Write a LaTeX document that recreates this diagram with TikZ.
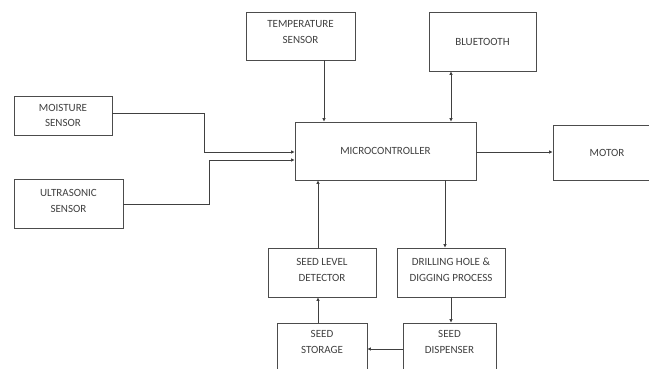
\documentclass[tikz,border=0pt]{standalone}
\usepackage{fontspec}
\setmainfont{Carlito}
\usetikzlibrary{arrows.meta}
\begin{document}
\begin{tikzpicture}[x=1pt,y=-1pt,
  box/.style={draw=black!70, line width=0.8pt, inner sep=0pt, align=center,
    font=\fontsize{11}{15.5}\selectfont, text=black!75},
  lbl/.style={inner sep=0pt, align=center, font=\fontsize{11}{15.5}\selectfont, text=black!75},
  arr/.style={draw=black!75, line width=0.8pt, -{Latex[length=3.5pt,width=3.5pt]}},
  barr/.style={draw=black!75, line width=0.8pt, {Latex[length=3.5pt,width=3.5pt]}-{Latex[length=3.5pt,width=3.5pt]}}]
\useasboundingbox (0,0) rectangle (649,368);
\clip (0,0) rectangle (649,368);
\fill[white] (0,0) rectangle (649,368);
\node[box, minimum width=109pt, minimum height=48pt] (temp) at (300.5,36) {};
\node[lbl] (tempt) at (300.5,32) {TEMPERATURE\\SENSOR};
\node[box, minimum width=107pt, minimum height=59pt] (bt) at (482.5,41.5) {BLUETOOTH};
\node[box, minimum width=98pt, minimum height=39pt] (moist) at (63,115.5) {MOISTURE\\SENSOR};
\node[box, minimum width=109pt, minimum height=49pt] (ultra) at (68.5,203.5) {};
\node[lbl] (ultrat) at (68.5,201) {ULTRASONIC\\SENSOR};
\node[box, minimum width=181pt, minimum height=58pt] (micro) at (385.5,151) {MICROCONTROLLER};
\node[box, minimum width=108pt, minimum height=55pt] (motor) at (607,152.5) {MOTOR};
\node[box, minimum width=108pt, minimum height=49pt] (sld) at (322,272.5) {};
\node[lbl] (sldt) at (322,270) {SEED LEVEL\\DETECTOR};
\node[box, minimum width=108pt, minimum height=49pt] (drill) at (451,272.5) {};
\node[lbl] (drillt) at (451,270) {DRILLING HOLE \&\\DIGGING PROCESS};
\node[box, minimum width=90pt, minimum height=49pt] (stor) at (322,347.5) {};
\node[lbl] (stort) at (322,342) {SEED\\STORAGE};
\node[box, minimum width=93pt, minimum height=49pt] (disp) at (449.5,347.5) {};
\node[lbl] (dispt) at (449.5,342) {SEED\\DISPENSER};
% connectors
\draw[arr] (324,0 |- temp.south) -- (324,0 |- micro.north);
\draw[barr] (451,0 |- bt.south) -- (451,0 |- micro.north);
\draw[arr] (moist.east |- 0,113) -- (204,113) -- (204,152) -- (micro.west |- 0,152);
\draw[arr] (ultra.east |- 0,204) -- (209,204) -- (209,160) -- (micro.west |- 0,160);
\draw[arr] (micro.east |- 0,152) -- (motor.west |- 0,152);
\draw[arr] (318,0 |- sld.north) -- (318,0 |- micro.south);
\draw[arr] (445,0 |- micro.south) -- (445,0 |- drill.north);
\draw[arr] (318,0 |- stor.north) -- (318,0 |- sld.south);
\draw[arr] (451,0 |- drill.south) -- (451,0 |- disp.north);
\draw[arr] (disp.west |- 0,349) -- (stor.east |- 0,349);
\end{tikzpicture}
\end{document}
